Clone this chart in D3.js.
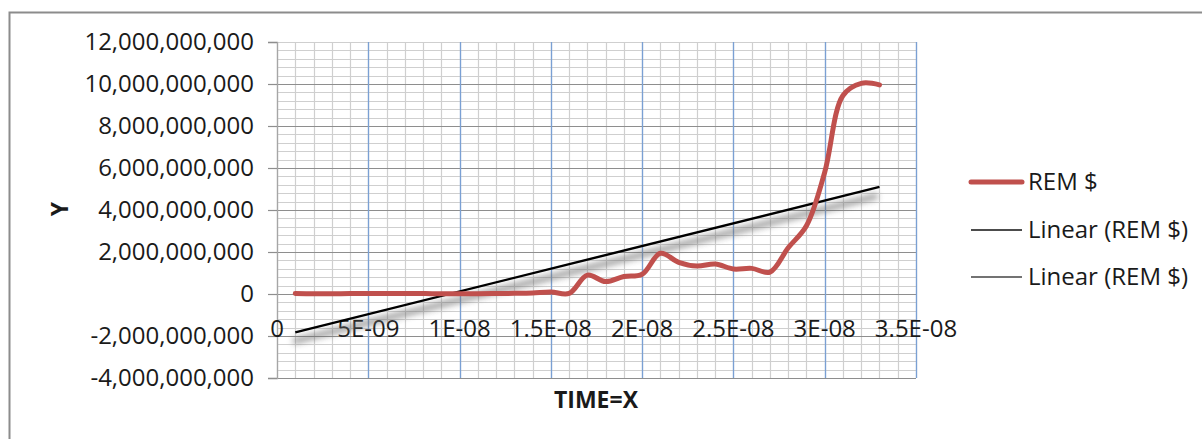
<!DOCTYPE html>
<html>
<head>
<meta charset="utf-8">
<script src="https://cdn.jsdelivr.net/npm/d3@7"></script>
<style>
  body { margin: 0; background: #fff; }
  text { font-family: "Open Sans", sans-serif; fill: #1a1a1a; }
</style>
</head>
<body>
<div id="chart"></div>
<script>
// data (time in seconds, REM $)
var timeValues = [1e-9, 2e-9, 3e-9, 4e-9, 5e-9, 6e-9, 7e-9, 8e-9, 9e-9, 1e-8,
  1.1e-8, 1.2e-8, 1.3e-8, 1.4e-8, 1.5e-8, 1.6e-8, 1.7e-8, 1.8e-8, 1.9e-8, 2e-8,
  2.1e-8, 2.2e-8, 2.3e-8, 2.4e-8, 2.5e-8, 2.6e-8, 2.7e-8, 2.8e-8, 2.9e-8, 3e-8,
  3.1e-8, 3.2e-8, 3.3e-8];
var remValues = [0.02e9, 0.01e9, 0.01e9, 0.02e9, 0.02e9, 0.02e9, 0.02e9, 0.02e9, 0.01e9, 0.01e9,
  0.01e9, 0.02e9, 0.03e9, 0.05e9, 0.1e9, 0.03e9, 0.9e9, 0.59e9, 0.83e9, 0.94e9,
  1.94e9, 1.51e9, 1.33e9, 1.43e9, 1.19e9, 1.22e9, 1.04e9, 2.2e9, 3.25e9, 5.8e9,
  9.45e9, 10.03e9, 9.96e9];
var yTicks = [-4e9, -2e9, 0, 2e9, 4e9, 6e9, 8e9, 10e9, 12e9];
var xTicks = [0, 5e-9, 1e-8, 1.5e-8, 2e-8, 2.5e-8, 3e-8, 3.5e-8];
var xTickLabels = ["0", "5E-09", "1E-08", "1.5E-08", "2E-08", "2.5E-08", "3E-08", "3.5E-08"];
var legendLabels = ["REM $", "Linear (REM $)", "Linear (REM $)"];

var data = timeValues.map(function (t, i) { return { x: t, y: remValues[i] }; });

// least squares trend line, like excel's linear trendline
var mx = d3.mean(timeValues), my = d3.mean(remValues);
var sxy = d3.sum(data, function (d) { return (d.x - mx) * (d.y - my); });
var sxx = d3.sum(data, function (d) { return (d.x - mx) * (d.x - mx); });
var slope = sxy / sxx, icpt = my - slope * mx;
var trend = [timeValues[0], timeValues[timeValues.length - 1]].map(function (t) {
  return { x: t, y: icpt + slope * t };
});

var W = 1202, H = 439;
var margin = { top: 42, left: 277 },
    width = 639, height = 336;

var svg = d3.select("#chart").append("svg")
  .attr("width", W).attr("height", H);

var defs = svg.append("defs");
var f = defs.append("filter").attr("id", "shadow")
  .attr("x", "-10%").attr("y", "-200%").attr("width", "120%").attr("height", "500%");
f.append("feGaussianBlur").attr("stdDeviation", 3);

// outer chart border
svg.append("rect")
  .attr("x", 9.5).attr("y", 12.5).attr("width", 1300).attr("height", 500)
  .attr("fill", "none").attr("stroke", "#8c8c8c").attr("stroke-width", 2);

var g = svg.append("g")
  .attr("transform", "translate(" + margin.left + "," + margin.top + ")");

var x = d3.scaleLinear().domain([0, 3.5e-8]).range([0, width]);
var y = d3.scaleLinear().domain([-4e9, 12e9]).range([height, 0]);

// minor grid
var minorY = d3.range(-4e9, 12e9 + 1, 0.4e9);
var minorX = d3.range(0, 3.5e-8 + 1e-10, 1e-9);
g.append("g").selectAll("line").data(minorY).enter().append("line")
  .attr("x1", 0).attr("x2", width)
  .attr("y1", function (d) { return Math.round(y(d)) + 0.5; })
  .attr("y2", function (d) { return Math.round(y(d)) + 0.5; })
  .attr("stroke", "#cfcfcf").attr("stroke-width", 1.2);
g.append("g").selectAll("line").data(minorX).enter().append("line")
  .attr("y1", 0).attr("y2", height)
  .attr("x1", function (d) { return Math.round(x(d)) + 0.5; })
  .attr("x2", function (d) { return Math.round(x(d)) + 0.5; })
  .attr("stroke", "#cfcfcf").attr("stroke-width", 1.2);

// major grid
g.append("g").selectAll("line").data(yTicks.slice(0, -1)).enter().append("line")
  .attr("x1", 0).attr("x2", width)
  .attr("y1", function (d) { return Math.round(y(d)) + 0.5; })
  .attr("y2", function (d) { return Math.round(y(d)) + 0.5; })
  .attr("stroke", "#8e8e8e").attr("stroke-width", 1.2);
g.append("g").selectAll("line").data(xTicks.slice(1)).enter().append("line")
  .attr("y1", 0).attr("y2", height)
  .attr("x1", function (d) { return Math.round(x(d)) + 0.5; })
  .attr("x2", function (d) { return Math.round(x(d)) + 0.5; })
  .attr("stroke", "#7aa0d4").attr("stroke-width", 1.3);

// y axis
var yAxis = g.append("g")
  .call(d3.axisLeft(y).tickValues(yTicks).tickSize(9).tickPadding(14)
    .tickFormat(function (d) { return d3.format(",")(d).replace("−", "-"); }));
yAxis.select(".domain").attr("stroke", "#a6a6a6").attr("stroke-width", 1.3);
yAxis.selectAll(".tick line").attr("stroke", "#8e8e8e").attr("stroke-width", 1.2);
yAxis.selectAll("text").style("font-size", "24px").style("font-family", "Open Sans")
  .attr("fill", "#1a1a1a");

// x tick labels
g.append("g").selectAll("text").data(xTicks).enter().append("text")
  .attr("x", function (d) { return x(d); })
  .attr("y", 295)
  .attr("text-anchor", "middle")
  .style("font-size", "24px")
  .text(function (d, i) { return xTickLabels[i]; });

// axis titles
svg.append("text")
  .attr("transform", "translate(68,209) rotate(-90)")
  .attr("text-anchor", "middle")
  .style("font-size", "23px").style("font-weight", "bold")
  .text("Y");
svg.append("text")
  .attr("x", 596).attr("y", 408)
  .attr("text-anchor", "middle")
  .style("font-size", "23px").style("font-weight", "bold")
  .text("TIME=X");

// trend line shadow + trend line
var lin = d3.line().x(function (d) { return x(d.x); }).y(function (d) { return y(d.y); });
g.append("path").datum(trend)
  .attr("d", lin)
  .attr("transform", "translate(-2,9)")
  .attr("fill", "none").attr("stroke", "#6a6a6a").attr("stroke-width", 6)
  .attr("opacity", 0.65)
  .attr("filter", "url(#shadow)");
g.append("path").datum(trend)
  .attr("d", lin)
  .attr("fill", "none").attr("stroke", "#000").attr("stroke-width", 2.4);

// REM $ smoothed line
var smooth = d3.line().curve(d3.curveCatmullRom.alpha(0.5))
  .x(function (d) { return x(d.x); }).y(function (d) { return y(d.y); });
g.append("path").datum(data)
  .attr("d", smooth)
  .attr("fill", "none").attr("stroke", "#c0504d").attr("stroke-width", 5)
  .attr("stroke-linecap", "round").attr("stroke-linejoin", "round");

// legend
var legendY = [182, 230, 277];
var legendStroke = ["#c0504d", "#111", "#444"];
var legendWidth = [5, 1.5, 1.5];
var lg = svg.append("g");
legendLabels.forEach(function (lab, i) {
  lg.append("line")
    .attr("x1", 971).attr("x2", 1022)
    .attr("y1", legendY[i]).attr("y2", legendY[i])
    .attr("stroke", legendStroke[i]).attr("stroke-width", legendWidth[i])
    .attr("stroke-linecap", i === 0 ? "round" : "butt");
  lg.append("text")
    .attr("x", 1028).attr("y", legendY[i]).attr("dy", "0.35em")
    .style("font-size", "24px")
    .text(lab);
});
</script>
</body>
</html>
